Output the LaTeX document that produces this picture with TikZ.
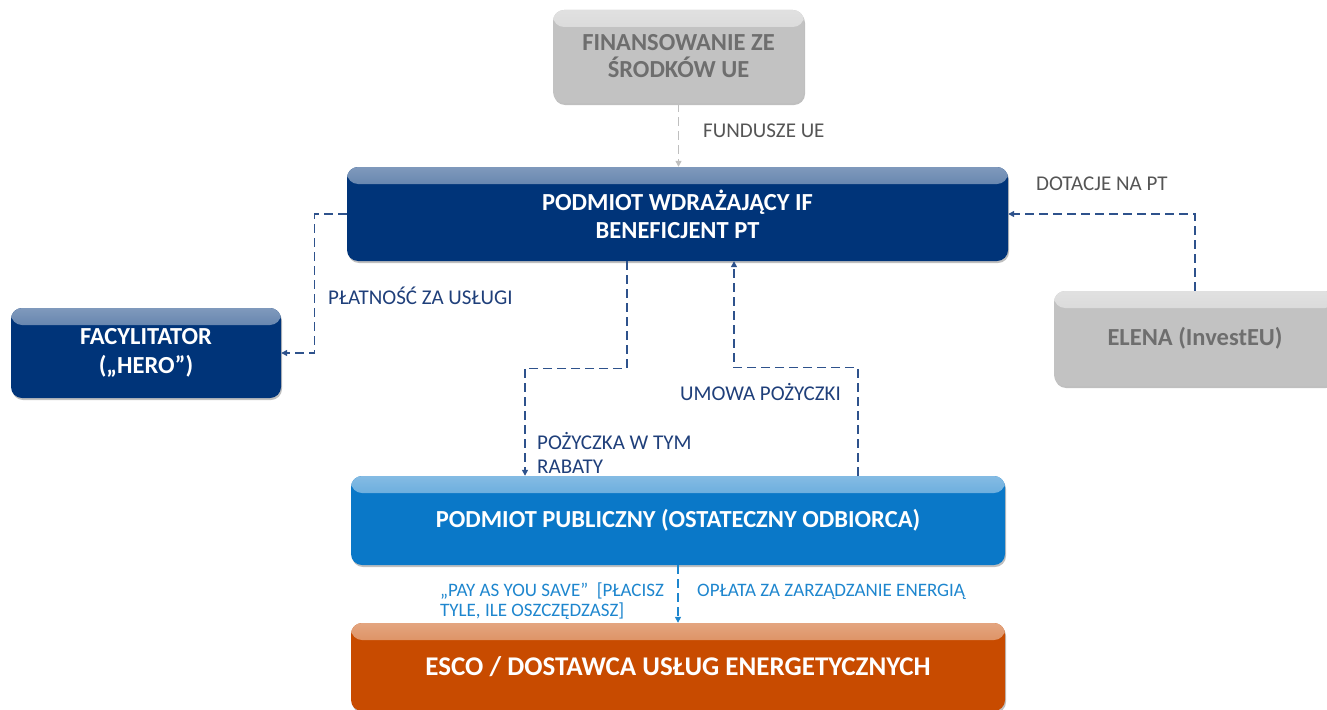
\documentclass[tikz,border=0pt]{standalone}
\usepackage{fontspec}
\setmainfont{Carlito}
\usetikzlibrary{arrows.meta,shadows}
\definecolor{navy}{HTML}{003479}
\definecolor{pubblue}{HTML}{0A78C8}
\definecolor{escoorange}{HTML}{C84B00}
\definecolor{boxgray}{HTML}{C2C2C2}
\definecolor{graytext}{HTML}{6E6E6E}
\definecolor{labelgray}{HTML}{555555}
\definecolor{linknavy}{HTML}{2E528C}
\definecolor{labelnavy}{HTML}{1F3F7A}
\definecolor{linkblue}{HTML}{1E86CE}
\begin{document}
\begin{tikzpicture}[x=1pt,y=-1pt,
  box/.style={rounded corners=11pt, inner sep=0pt, align=center,
    font=\bfseries\fontsize{24.5}{28}\selectfont,
    drop shadow={shadow xshift=1pt, shadow yshift=-2pt, opacity=0.25, fill=black}},
  gloss/.style={fill=#1, path picture={\shade[top color=white!50!#1, bottom color=#1]
      (path picture bounding box.north west) rectangle ([yshift=-17pt]path picture bounding box.north east);}},
  conn/.style={draw=linknavy, line width=1.3pt, dash pattern=on 9pt off 5pt,
    -{Triangle[length=6pt,width=6pt]}},
  grayconn/.style={conn, draw=black!25},
  blueconn/.style={conn, draw=linkblue},
  lbl/.style={anchor=west, inner sep=0pt, text=labelnavy, font=\fontsize{21}{24}\selectfont, align=left},
  smalllbl/.style={lbl, text=linkblue, font=\fontsize{19}{20}\selectfont},
]
\useasboundingbox (0,0) rectangle (1327,709);
\clip (0,0) rectangle (1327,709);

% boxes
\node[box, gloss=boxgray, text=graytext, minimum width=251pt, minimum height=93pt,
  font=\bfseries\fontsize{24.5}{27}\selectfont]
  (eu) at (678.5,56.5) {FINANSOWANIE ZE\\ŚRODKÓW UE};
\node[box, gloss=navy, text=white, minimum width=661pt, minimum height=94pt]
  (main) at (677.5,214) {PODMIOT WDRAŻAJĄCY IF\\BENEFICJENT PT};
\node[box, gloss=navy, text=white, minimum width=270pt, minimum height=90pt,
  font=\bfseries\fontsize{24.5}{29}\selectfont]
  (fac) at (146,353) {FACYLITATOR\\(„HERO”)};
\node[box, gloss=boxgray, text=graytext, minimum width=282pt, minimum height=95pt]
  (elena) at (1195,338.5) {ELENA (InvestEU)};
\node[box, gloss=pubblue, text=white, minimum width=654pt, minimum height=89pt]
  (pub) at (678,520.5) {PODMIOT PUBLICZNY (OSTATECZNY ODBIORCA)};
\node[box, gloss=escoorange, text=white, minimum width=654pt, minimum height=88pt,
  font=\bfseries\fontsize{27}{30}\selectfont]
  (esco) at (678,667) {ESCO / DOSTAWCA USŁUG ENERGETYCZNYCH};

% connectors
\draw[grayconn] (eu.south) -- (main.north -| eu.south);
\draw[conn] (elena.north) |- (main.east);
\draw[conn] (main.west) -- ++(-32,0) |- (fac.east);
\draw[conn] ([xshift=-50.5pt]main.south) -- ++(0,107) -| ([xshift=-153pt]pub.north);
\draw[conn] ([xshift=180pt]pub.north) -- ++(0,-108) -| ([xshift=56.5pt]main.south);
\draw[blueconn] (pub.south) -- (esco.north);

% labels
\node[lbl, text=labelgray] (lfund) at (703,131) {FUNDUSZE UE};
\node[lbl, text=labelgray] (ldot) at (1036,184) {DOTACJE NA PT};
\node[lbl] (lpay) at (328,296) {PŁATNOŚĆ ZA USŁUGI};
\node[lbl] (lumowa) at (680,392) {UMOWA POŻYCZKI};
\node[lbl] (lloan) at (537,453) {POŻYCZKA W TYM\\RABATY};
\node[smalllbl] (lpays) at (440,601)
  {„PAY AS YOU SAVE”\ \ [PŁACISZ\\TYLE, ILE OSZCZĘDZASZ]};
\node[smalllbl] (lfee) at (697,592) {OPŁATA ZA ZARZĄDZANIE ENERGIĄ};
\end{tikzpicture}
\end{document}
